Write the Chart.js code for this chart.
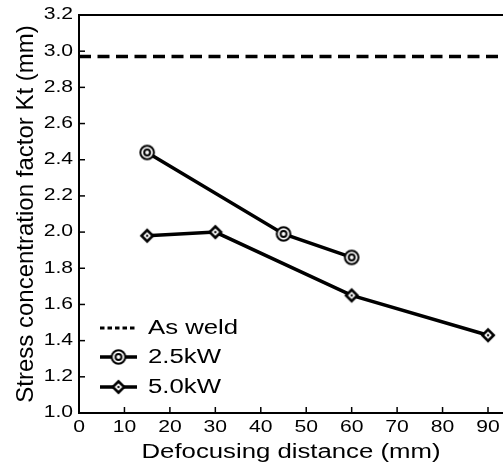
<!DOCTYPE html>
<html>
<head>
<meta charset="utf-8">
<script src="https://cdn.jsdelivr.net/npm/chart.js@4"></script>
<style>
html,body{margin:0;padding:0;background:#fff;}
#wrap{width:503px;height:464px;position:relative;}
</style>
</head>
<body>
<div id="wrap"><canvas id="c" width="503" height="464"></canvas></div>
<script>
// ---- data ----
const xTickValues = [0, 10, 20, 30, 40, 50, 60, 70, 80, 90];
const yTickValues = [1.0, 1.2, 1.4, 1.6, 1.8, 2.0, 2.2, 2.4, 2.6, 2.8, 3.0, 3.2];
const xMin = 0, xMax = 93.3, yMin = 1.0, yMax = 3.2;
const seriesLabels = ['As weld', '2.5kW', '5.0kW'];
const asWeldLevel = 2.97;
const dist25 = [15, 45, 60];
const kt25 = [2.44, 1.99, 1.86];
const dist50 = [15, 30, 60, 90];
const kt50 = [1.98, 2.00, 1.65, 1.43];

// ---- wide text rendering (horizontal text only) ----
const STRETCH = 1.32;
const proto = CanvasRenderingContext2D.prototype;
const origFill = proto.fillText;
proto.fillText = function (text, x, y, maxWidth) {
  const m = this.getTransform();
  if (Math.abs(m.b) > 1e-6 || Math.abs(m.c) > 1e-6) {
    return maxWidth === undefined ? origFill.call(this, text, x, y) : origFill.call(this, text, x, y, maxWidth);
  }
  this.save();
  this.translate(x, y);
  this.scale(STRETCH, 1);
  if (maxWidth === undefined) origFill.call(this, text, 0, 0);
  else origFill.call(this, text, 0, 0, maxWidth / STRETCH);
  this.restore();
};

// ---- markers ----
function makeCircle() {
  const c = document.createElement('canvas'); c.width = c.height = 20;
  const g = c.getContext('2d');
  g.strokeStyle = '#000'; g.fillStyle = '#fff'; g.lineWidth = 2;
  g.beginPath(); g.arc(10, 10, 6.8, 0, Math.PI * 2); g.fill(); g.stroke();
  g.beginPath(); g.arc(10, 10, 2.9, 0, Math.PI * 2); g.stroke();
  return c;
}
function diamond(g, r) {
  g.beginPath(); g.moveTo(10, 10 - r); g.lineTo(10 + r, 10); g.lineTo(10, 10 + r); g.lineTo(10 - r, 10); g.closePath();
}
function makeDiamond() {
  const c = document.createElement('canvas'); c.width = c.height = 20;
  const g = c.getContext('2d');
  g.fillStyle = '#000'; diamond(g, 7.5); g.fill();
  g.fillStyle = '#fff'; diamond(g, 3.8); g.fill();
  g.fillStyle = '#000'; diamond(g, 1.5); g.fill();
  return c;
}
const circleMark = makeCircle();
const diamondMark = makeDiamond();

const FONT = "'Liberation Sans', Arial, sans-serif";

// ---- decorations: inward ticks, top frame, legend ----
const decor = {
  id: 'decor',
  afterDraw(chart) {
    const { ctx, chartArea: a, scales: { x, y } } = chart;
    ctx.save();
    ctx.strokeStyle = '#000';
    ctx.lineWidth = 1.5;
    x.ticks.forEach(t => {
      const px = x.getPixelForValue(t.value);
      ctx.beginPath(); ctx.moveTo(px, a.bottom); ctx.lineTo(px, a.bottom - 6); ctx.stroke();
    });
    y.ticks.forEach(t => {
      const py = y.getPixelForValue(t.value);
      ctx.beginPath(); ctx.moveTo(a.left, py); ctx.lineTo(a.left + 6, py); ctx.stroke();
    });
    ctx.lineWidth = 2;
    ctx.beginPath(); ctx.moveTo(a.left, a.top); ctx.lineTo(chart.width, a.top); ctx.stroke();

    // legend
    const rowY = [328, 357, 387];
    chart.data.datasets.forEach((ds, i) => {
      const yy = rowY[i];
      ctx.save();
      ctx.strokeStyle = '#000';
      ctx.lineWidth = 3.5;
      if (i === 0) { ctx.setLineDash([4.5, 3]); ctx.lineWidth = 3; }
      ctx.beginPath(); ctx.moveTo(100, yy); ctx.lineTo(137, yy); ctx.stroke();
      ctx.restore();
      if (ds.pointStyle && typeof ds.pointStyle === 'object') {
        ctx.drawImage(ds.pointStyle, 118.5 - 10, yy - 10);
      }
      ctx.fillStyle = '#000';
      ctx.font = '19.5px ' + FONT;
      ctx.textAlign = 'left';
      ctx.textBaseline = 'middle';
      ctx.fillText(ds.label, 148, yy + 1);
    });
    ctx.restore();
  }
};

const chart = new Chart(document.getElementById('c'), {
  type: 'line',
  data: {
    datasets: [
      {
        label: seriesLabels[0],
        data: [{ x: xMin, y: asWeldLevel }, { x: xMax, y: asWeldLevel }],
        borderColor: '#000', borderWidth: 3.5, borderDash: [12, 6.5],
        pointRadius: 0, fill: false
      },
      {
        label: seriesLabels[1],
        data: dist25.map((d, i) => ({ x: d, y: kt25[i] })),
        borderColor: '#000', borderWidth: 3.5, pointStyle: circleMark, fill: false
      },
      {
        label: seriesLabels[2],
        data: dist50.map((d, i) => ({ x: d, y: kt50[i] })),
        borderColor: '#000', borderWidth: 3.5, pointStyle: diamondMark, fill: false
      }
    ]
  },
  options: {
    responsive: false,
    animation: false,
    devicePixelRatio: 1,
    layout: { autoPadding: false, padding: { top: 15, right: 0, left: 0, bottom: 0 } },
    plugins: { legend: { display: false }, tooltip: { enabled: false } },
    scales: {
      x: {
        type: 'linear', min: xMin, max: xMax,
        afterBuildTicks: s => { s.ticks = xTickValues.map(v => ({ value: v })); },
        afterFit: s => { s.height = 51; s.paddingLeft = 0; s.paddingRight = 0; },
        grid: { drawOnChartArea: false, drawTicks: false },
        border: { display: true, color: '#000', width: 2 },
        ticks: { autoSkip: false, maxRotation: 0, padding: 5, color: '#000', font: { family: FONT, size: 16 } },
        title: { display: true, text: 'Defocusing distance (mm)', color: '#000', font: { family: FONT, size: 19.5 }, padding: { top: 0, bottom: 0 } }
      },
      y: {
        type: 'linear', min: yMin, max: yMax,
        afterBuildTicks: s => { s.ticks = yTickValues.map(v => ({ value: v })); },
        afterFit: s => { s.width = 79; s.paddingTop = 0; s.paddingBottom = 0; },
        grid: { drawOnChartArea: false, drawTicks: false },
        border: { display: true, color: '#000', width: 2 },
        ticks: { padding: 6, color: '#000', font: { family: FONT, size: 16 }, callback: v => Number(v).toFixed(1) },
        title: { display: true, text: 'Stress concentration factor Kt (mm)', color: '#000', font: { family: FONT, size: 24 }, padding: { top: 12, bottom: 0 } }
      }
    }
  },
  plugins: [decor]
});
</script>
</body>
</html>
